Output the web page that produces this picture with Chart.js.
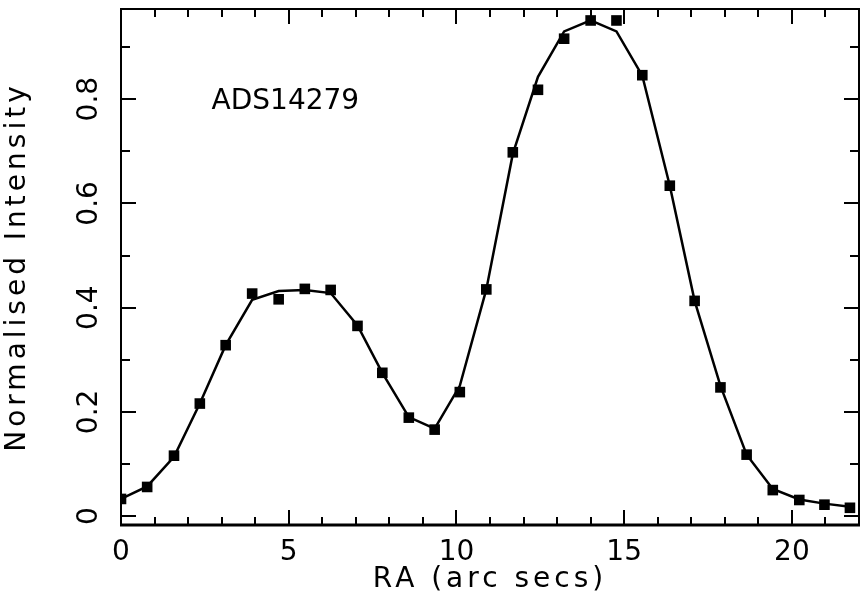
<!DOCTYPE html>
<html>
<head>
<meta charset="utf-8">
<title>ADS14279</title>
<script src="https://cdn.jsdelivr.net/npm/chart.js@4.4.1/dist/chart.umd.min.js"></script>
<style>
    html, body { margin: 0; padding: 0; background: #fff; }
    #wrap { width: 860px; height: 614px; }
</style>
</head>
<body>
<div id="wrap"><canvas id="profileChart" width="860" height="614"></canvas></div>
<script>
/*---------data-----------*/
const raX = [0, 0.78, 1.58, 2.35, 3.12, 3.91, 4.70, 5.48, 6.25, 7.05, 7.79, 8.58, 9.35, 10.10, 10.89,
    11.68, 12.43, 13.21, 14.00, 14.77, 15.54, 16.36, 17.10, 17.87, 18.65, 19.43, 20.22, 20.97, 21.73];
const observed = [0.033, 0.056, 0.116, 0.216, 0.328, 0.427, 0.416, 0.436, 0.434, 0.365, 0.275, 0.189, 0.166, 0.238, 0.435,
    0.698, 0.818, 0.916, 0.951, 0.951, 0.846, 0.634, 0.413, 0.247, 0.118, 0.050, 0.031, 0.022, 0.016];
const fitted = [0.033, 0.057, 0.114, 0.216, 0.328, 0.415, 0.432, 0.434, 0.428, 0.366, 0.275, 0.190, 0.168, 0.250, 0.435,
    0.695, 0.843, 0.930, 0.951, 0.930, 0.845, 0.634, 0.413, 0.250, 0.118, 0.052, 0.032, 0.024, 0.018];
const xTickLabels = [0, 5, 10, 15, 20];
const yTickLabels = [0, 0.2, 0.4, 0.6, 0.8];
const starName = 'ADS14279';
const xTitle = 'RA (arc secs)';
const yTitle = 'Normalised Intensity';

const FONT = "'DejaVu Sans', sans-serif";

// inward ticks + frame + rotated y labels + star name
const framePlugin = {
    id: 'frame',
    beforeDraw(chart) {
        chart.ctx.letterSpacing = '4px';
    },
    beforeDatasetsDraw(chart) {
        chart.ctx.letterSpacing = '0px';
    },
    afterDraw(chart) {
        const ctx = chart.ctx;
        const xs = chart.scales.x, ys = chart.scales.y;
        const a = chart.chartArea;
        ctx.save();
        ctx.strokeStyle = '#000';
        ctx.lineCap = 'butt';

        // x ticks, bottom + top
        ctx.lineWidth = 2;
        for (let v = 0; v <= xs.max + 1e-6; v += 1) {
            const px = Math.round(xs.getPixelForValue(v));
            const len = (v % 5 === 0) ? 15 : 8;
            ctx.beginPath();
            ctx.moveTo(px, a.bottom); ctx.lineTo(px, a.bottom - len);
            ctx.moveTo(px, a.top); ctx.lineTo(px, a.top + len);
            ctx.stroke();
        }
        // y ticks, left + right
        for (let i = 0; i <= 9; i++) {
            const v = i / 10;
            const py = Math.round(ys.getPixelForValue(v));
            const len = (i % 2 === 0) ? 15 : 9;
            ctx.beginPath();
            ctx.moveTo(a.left, py); ctx.lineTo(a.left + len, py);
            ctx.moveTo(a.right, py); ctx.lineTo(a.right - len, py);
            ctx.stroke();
        }

        // frame
        ctx.lineWidth = 2;
        ctx.beginPath();
        ctx.moveTo(a.left, a.bottom);
        ctx.lineTo(a.left, a.top);
        ctx.lineTo(a.right, a.top);
        ctx.lineTo(a.right, a.bottom);
        ctx.stroke();
        ctx.lineWidth = 3;
        ctx.beginPath();
        ctx.moveTo(a.left - 1, a.bottom);
        ctx.lineTo(a.right + 1, a.bottom);
        ctx.stroke();

        // y tick labels, rotated
        ctx.fillStyle = '#000';
        ctx.font = '28px ' + FONT;
        ctx.textAlign = 'center';
        ctx.textBaseline = 'middle';
        yTickLabels.forEach(v => {
            const py = ys.getPixelForValue(v);
            ctx.save();
            ctx.translate(90, py);
            ctx.rotate(-Math.PI / 2);
            ctx.fillText(String(v), 0, 0);
            ctx.restore();
        });

        // star name
        ctx.textAlign = 'left';
        ctx.fillText(starName, xs.getPixelForValue(2.7), ys.getPixelForValue(0.795));
        ctx.restore();
    }
};

const ctx = document.getElementById('profileChart').getContext('2d');
const profileChart = new Chart(ctx, {
    type: 'scatter',
    data: {
        datasets: [{
            label: 'fit',
            data: raX.map((x, i) => ({x: x, y: fitted[i]})),
            showLine: true,
            borderColor: '#000',
            borderWidth: 2.5,
            pointRadius: 0,
            tension: 0
        }, {
            label: 'observed',
            data: raX.map((x, i) => ({x: x, y: observed[i]})),
            showLine: false,
            pointStyle: 'rect',
            pointRadius: 7.5,
            pointBorderWidth: 0,
            backgroundColor: '#000',
            borderColor: '#000'
        }]
    },
    options: {
        responsive: false,
        animation: false,
        devicePixelRatio: 1,
        layout: { autoPadding: false, padding: { top: 9, right: 1, left: 0, bottom: 0 } },
        plugins: {
            legend: { display: false },
            tooltip: { enabled: false }
        },
        scales: {
            x: {
                type: 'linear',
                min: 0,
                max: 22,
                grid: { display: false, drawTicks: false },
                border: { display: false },
                afterBuildTicks: (scale) => { scale.ticks = xTickLabels.map(v => ({value: v})); },
                afterFit: (scale) => {
                    scale.height = 89;
                    scale.paddingLeft = 0;
                    scale.paddingRight = 0;
                },
                ticks: {
                    z: 1,
                    padding: 11,
                    color: '#000',
                    font: { family: FONT, size: 28 },
                    maxRotation: 0
                },
                title: {
                    display: true,
                    text: xTitle,
                    color: '#000',
                    font: { family: FONT, size: 28 },
                    padding: { top: 0, bottom: 17 }
                }
            },
            y: {
                type: 'linear',
                min: -0.017,
                max: 0.973,
                grid: { display: false, drawTicks: false },
                border: { display: false },
                afterBuildTicks: (scale) => { scale.ticks = yTickLabels.map(v => ({value: v})); },
                afterFit: (scale) => {
                    scale.width = 121;
                    scale.paddingTop = 0;
                    scale.paddingBottom = 0;
                },
                ticks: { display: false },
                title: {
                    display: true,
                    text: yTitle,
                    color: '#000',
                    font: { family: FONT, size: 28 },
                    padding: { top: 1, bottom: 0 }
                }
            }
        }
    },
    plugins: [framePlugin]
});
</script>
</body>
</html>
